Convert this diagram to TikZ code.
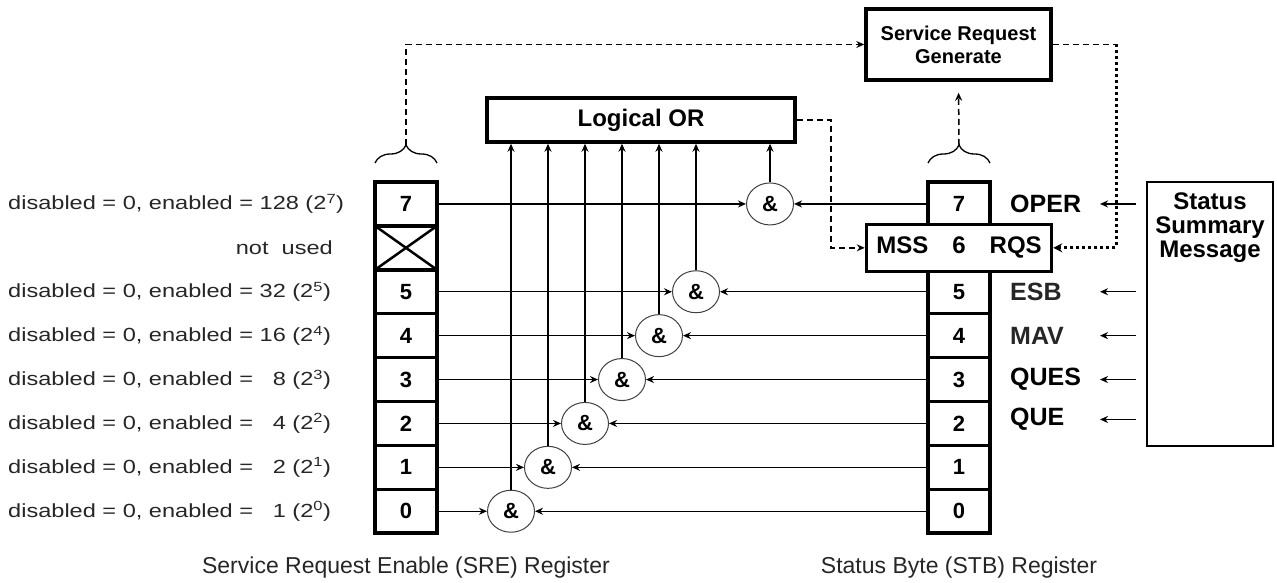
\documentclass[tikz,border=0pt]{standalone}
\usepackage{fontspec}
\setmainfont{Liberation Sans}
\newfontfamily\widesans{Liberation Sans}[FakeStretch=1.24]
\usetikzlibrary{
  arrows.meta,
  shapes.geometric,
  positioning,
  decorations.pathreplacing
}
\tikzset{
  regcell/.style={
    draw, line width=3.5pt, minimum width=62pt, minimum height=43.9pt,
    outer sep=0pt, inner sep=0pt, font=\fontsize{22}{24}\selectfont\bfseries
  },
  srbox/.style={
    draw, line width=3.5pt, fill=white, align=center, inner sep=0pt,
    font=\fontsize{24}{26}\selectfont\bfseries
  },
  andgate/.style={
    draw=black!75, ellipse, line width=1pt, minimum width=47pt, minimum height=42pt,
    inner sep=0pt, font=\fontsize{22}{22}\selectfont\bfseries
  },
  enlabel/.style={anchor=west, inner sep=0pt, text=black!85, font=\widesans\fontsize{19}{20}\selectfont},
  stlabel/.style={anchor=west, inner sep=0pt, font=\fontsize{25}{26}\selectfont\bfseries},
  regcaption/.style={text=black!85, font=\fontsize{23}{24}\selectfont},
  flow/.style={-{Stealth[length=8pt, width=7pt]}, line width=1.3pt},
  dashflow/.style={flow, line width=1.5pt, dash pattern=on 6pt off 4pt},
  dotflow/.style={-{Stealth[length=9pt, width=9pt]}, line width=3pt, dash pattern=on 3pt off 3pt},
  regbrace/.style={decorate, decoration={brace, amplitude=18pt}, line width=1.3pt}
}

\begin{document}
\begin{tikzpicture}[x=1pt, y=1pt, node distance=20pt]
  \useasboundingbox (0,0) rectangle (1277,583);

  % SRE register
  \node[regcell] (sre7) at (406,379.05) {7};
  \node[regcell, below=0pt of sre7] (sre6) {};
  \node[regcell, below=0pt of sre6] (sre5) {5};
  \node[regcell, below=0pt of sre5] (sre4) {4};
  \node[regcell, below=0pt of sre4] (sre3) {3};
  \node[regcell, below=0pt of sre3] (sre2) {2};
  \node[regcell, below=0pt of sre2] (sre1) {1};
  \node[regcell, below=0pt of sre1] (sre0) {0};
  \draw[line width=2.5pt] (sre6.north west) -- (sre6.south east)
    (sre6.south west) -- (sre6.north east);
  \node[regcaption, below=of sre0] (srecap) {Service Request Enable (SRE) Register};

  % STB register
  \coordinate (stbcol) at (959,0);
  \node[regcell] (stb7) at (stbcol |- sre7) {7};
  \node[regcell] (stb5) at (stbcol |- sre5) {5};
  \node[regcell] (stb4) at (stbcol |- sre4) {4};
  \node[regcell] (stb3) at (stbcol |- sre3) {3};
  \node[regcell] (stb2) at (stbcol |- sre2) {2};
  \node[regcell] (stb1) at (stbcol |- sre1) {1};
  \node[regcell] (stb0) at (stbcol |- sre0) {0};
  \node[srbox, minimum width=185pt, minimum height=47pt] (mss) at (stbcol |- sre6) {MSS\quad 6\quad RQS};
  \node[regcaption, below=of stb0] (stbcap) {Status Byte (STB) Register};

  % bit weights
  \coordinate (txtcol) at (8,0);
  \coordinate (txtend) at (333,0);
  \node[enlabel] (en7) at (txtcol |- sre7) {disabled = 0, enabled = 128 (2\textsuperscript{7})};
  \node[enlabel, anchor=east] (en6) at (txtend |- sre6) {not\ \ used};
  \node[enlabel] (en5) at (txtcol |- sre5) {disabled = 0, enabled = 32 (2\textsuperscript{5})};
  \node[enlabel] (en4) at (txtcol |- sre4) {disabled = 0, enabled = 16 (2\textsuperscript{4})};
  \node[enlabel] (en3) at (txtcol |- sre3) {disabled = 0, enabled = \phantom{3}8 (2\textsuperscript{3})};
  \node[enlabel] (en2) at (txtcol |- sre2) {disabled = 0, enabled = \phantom{3}4 (2\textsuperscript{2})};
  \node[enlabel] (en1) at (txtcol |- sre1) {disabled = 0, enabled = \phantom{3}2 (2\textsuperscript{1})};
  \node[enlabel] (en0) at (txtcol |- sre0) {disabled = 0, enabled = \phantom{3}1 (2\textsuperscript{0})};

  % or and request boxes
  \node[srbox, minimum width=308pt, minimum height=44pt] (lor) at (641,463) {Logical OR};
  \node[srbox, minimum width=185pt, minimum height=71pt, font=\fontsize{20}{23}\selectfont\bfseries] (srg) at (958.5,538.5) {Service Request\\Generate};

  % and gates
  \foreach \b/\gx in {7/770,5/696,4/659,3/622,2/585,1/548,0/511} {
    \coordinate (gcol) at (\gx,0);
    \node[andgate] (and\b) at (gcol |- sre\b) {\&};
    \draw[flow] (sre\b.east) -- (and\b.west);
    \draw[flow] (stb\b.west) -- (and\b.east);
    \draw[flow] (and\b.north) -- (and\b.north |- lor.south);
  }

  % braces and request paths
  \draw[regbrace] ([yshift=19pt]sre7.north west) -- ([yshift=19pt]sre7.north east);
  \draw[regbrace] ([yshift=19pt]stb7.north west) -- ([yshift=19pt]stb7.north east);
  \coordinate (sretip) at ([yshift=37pt]sre7.north);
  \coordinate (stbtip) at ([yshift=37pt]stb7.north);
  \draw[dashflow] (sretip) |- (srg.west);
  \draw[dashflow, shorten >=11pt] (stbtip) -- (srg.south);
  \coordinate (orcol) at (831,0);
  \draw[dashflow] (lor.east) -- (lor.east -| orcol) -- (orcol |- mss.west) -- (mss.west);
  \coordinate (dotcol) at (1116,0);
  \draw[line width=1.5pt, dash pattern=on 6pt off 4pt] (srg.east) -- (srg.east -| dotcol);
  \draw[dotflow] (srg.east -| dotcol) -- (dotcol |- mss.east) -- (mss.east);

  % status summary
  \node[draw, line width=1.5pt, minimum width=126pt, minimum height=264pt,
    label={[anchor=north, align=center, yshift=-8pt, font=\fontsize{24}{24}\selectfont\bfseries]north:Status\\Summary\\Message}] (ssm) at (1210,269) {};
  \coordinate (labcol) at (1010,0);
  \coordinate (tipcol) at (1100,0);
  \node[stlabel] (oper) at (labcol |- stb7) {OPER};
  \node[stlabel, black!85] (esb) at (labcol |- stb5) {ESB};
  \node[stlabel, black!85] (mav) at (labcol |- stb4) {MAV};
  \node[stlabel] (ques) at (labcol |- stb3) {QUES};
  \node[stlabel] (que) at ([yshift=4pt]labcol |- stb2) {QUE};
  \foreach \l in {oper,esb,mav,ques,que}
    \draw[flow, shorten <=10pt] (ssm.west |- \l) -- (tipcol |- \l);
\end{tikzpicture}
\end{document}
